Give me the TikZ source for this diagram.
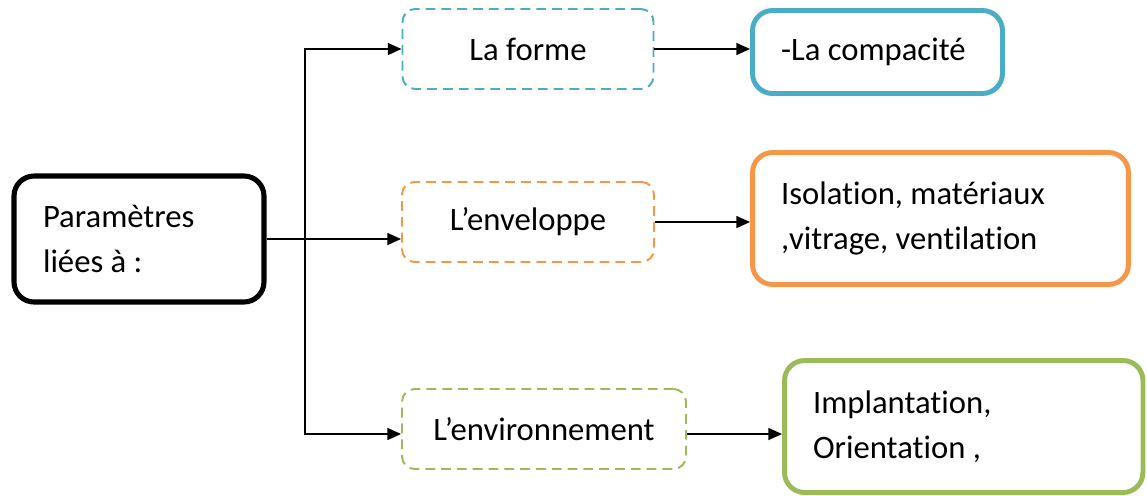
\documentclass[tikz,border=0pt]{standalone}
\usepackage{fontspec}
\setmainfont[Ligatures=NoCommon]{Carlito}
\frenchspacing
\usetikzlibrary{arrows.meta,positioning}

\definecolor{formeblue}{HTML}{4BACC6}
\definecolor{envorange}{HTML}{F79646}
\definecolor{milgreen}{HTML}{9BBB59}

\tikzset{
  mainbox/.style={draw=black, line width=2.9pt, rounded corners=0.4cm,
    align=flush left, text width=3.84cm, inner xsep=0.58cm,
    minimum width=5.0cm, minimum height=2.52cm},
  dashbox/.style={draw=#1, line width=1.1pt, rounded corners=0.25cm,
    dash pattern=on 5.6pt off 3.4pt, align=center, minimum height=1.6cm},
  thickbox/.style={draw=#1, line width=2.8pt, rounded corners=0.4cm,
    align=flush left, inner xsep=0.57cm},
  arr/.style={line width=0.8pt, -{Triangle[length=7.8pt,width=6.8pt]}}
}

\begin{document}
\begin{tikzpicture}[x=0.02cm, y=-0.02cm, font=\fontsize{18.6}{25.5}\selectfont]

    % page frame
    \useasboundingbox (0,0) rectangle (1147,495);

    % Main block
    \node[mainbox] (param) at (139,239) {Paramètres\\liées à :};

    % Middle column
    \node[dashbox=formeblue, minimum width=5.02cm] (forme) at (528,49) {La forme};
    \node[dashbox=envorange, minimum width=5.04cm] (enveloppe) at (528,222) {L’enveloppe};
    \node[dashbox=milgreen, minimum width=5.68cm] (environ) at (544,429) {L’environnement};

    % Right column
    \node[thickbox=formeblue, text width=3.86cm, minimum width=5.0cm, minimum height=1.66cm]
      (compacite) at (877.5,52) {-La compacité};
    \node[thickbox=envorange, text width=6.38cm, minimum width=7.52cm, minimum height=2.64cm]
      (isolation) at (940.5,218.5) {Isolation, matériaux\\,vitrage, ventilation};
    \node[thickbox=milgreen, text width=6.03cm, minimum width=7.17cm, minimum height=2.64cm]
      (implant) at (963.75,426.5) {Implantation,\\Orientation ,};

    % Branching from the main block
    \coordinate (spine) at (305,239);
    \draw[line width=0.8pt] (param.east) -- (spine);
    \draw[arr] (spine) |- (forme.west);
    \draw[arr] (spine) -- (spine -| enveloppe.west);
    \draw[arr] (spine) |- ([yshift=-0.1cm]environ.west);

    % Details of each parameter
    \draw[arr] (forme.east) -- (forme.east -| compacite.west);
    \draw[arr] (enveloppe.east) -- (enveloppe.east -| isolation.west);
    \draw[arr] ([yshift=-0.1cm]environ.east) -- ([yshift=-0.1cm]environ.east -| implant.west);

\end{tikzpicture}
\end{document}
